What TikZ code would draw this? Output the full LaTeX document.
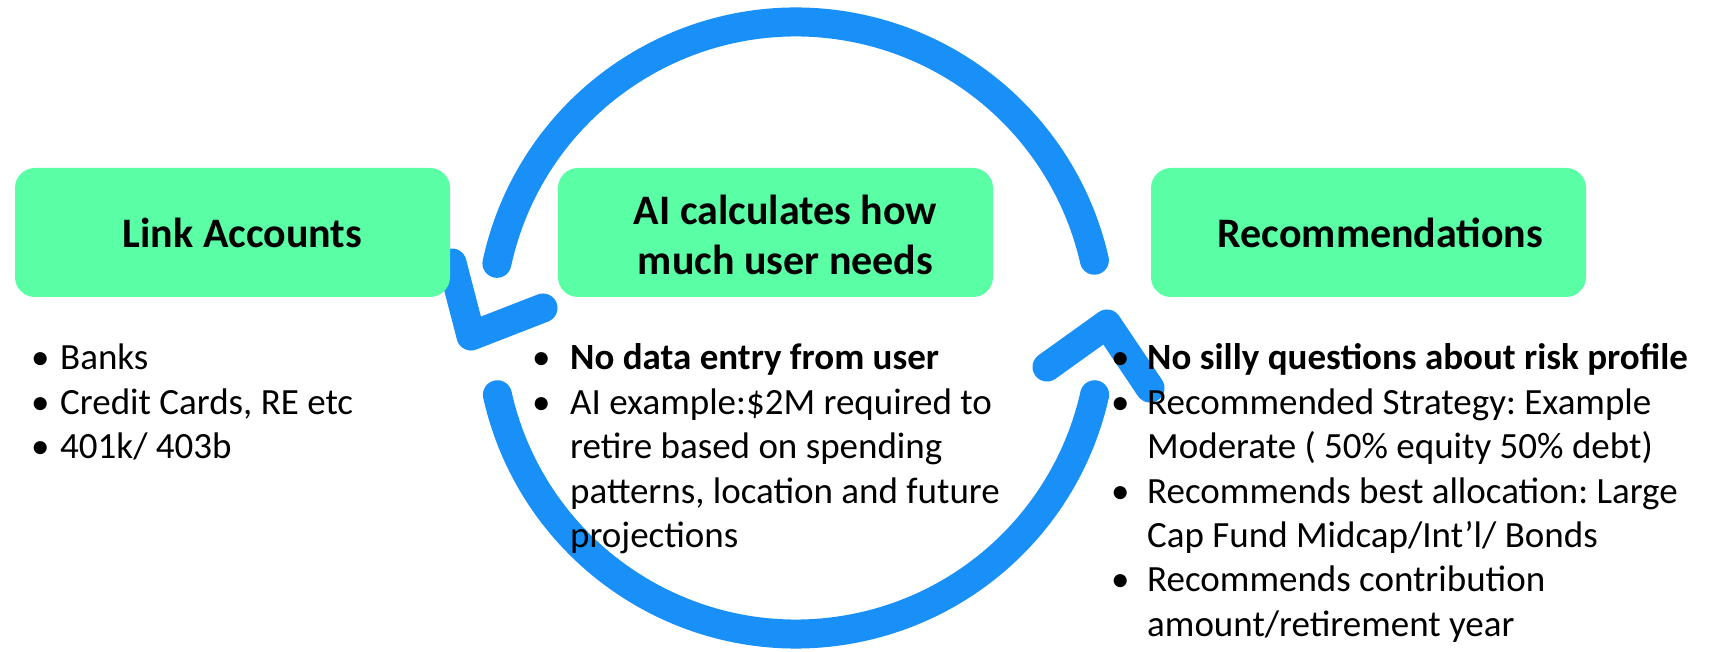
\documentclass[tikz,border=0pt]{standalone}
\usepackage{fontspec}
\setmainfont{Carlito}
\usetikzlibrary{calc}
\definecolor{boxgreen}{RGB}{90,255,165}
\definecolor{arcblue}{RGB}{24,144,248}
\newcommand{\bl}[1]{\makebox[#1][l]{•}}
\frenchspacing
\begin{document}
\begin{tikzpicture}[x=1pt,y=1pt,
  arcline/.style={draw=arcblue,line width=29pt,line cap=round,line join=round},
  greenbox/.style={fill=boxgreen,rounded corners=20pt,minimum width=435pt,minimum height=129pt,inner sep=0pt},
  boxtext/.style={font=\fontsize{42}{50}\selectfont\bfseries,align=center,inner sep=0pt},
  bullets/.style={font=\fontsize{37}{44.4}\selectfont,inner sep=0pt,anchor=base west}
]
\useasboundingbox (0,0) rectangle (1716,651);
\fill[white] (0,0) rectangle (1716,651);

% cycle arrows
\coordinate (c) at (796,323);
\coordinate (uL) at ($(c)+(167.8:306)$);
\coordinate (lL) at ($(c)+(192.6:306)$);
\draw[arcline] (uL) arc[start angle=167.8,end angle=12.8,radius=306];
\draw[arcline] (lL) arc[start angle=192.6,end angle=347.4,radius=306];
\coordinate (hA1) at (452,388);
\coordinate (hA2) at (471,315);
\coordinate (hA3) at (543,343);
\draw[arcline] (hA1) -- (hA2) -- (hA3);
\coordinate (hB1) at (1047,284);
\coordinate (hB2) at (1107,327);
\coordinate (hB3) at (1150,263);
\draw[arcline] (hB1) -- (hB2) -- (hB3);

% boxes
\node[greenbox] (link) at (232.5,418.5) {};
\node[greenbox] (ai) at (775.5,418.5) {};
\node[greenbox] (rec) at (1368.5,418.5) {};
\node[boxtext] (linkt) at ([xshift=10pt]link.center) {Link Accounts};
\node[boxtext] (ait) at ([xshift=10pt,yshift=-2pt]ai.center) {AI calculates how\\much user needs};
\node[boxtext] (rect) at ([xshift=12pt]rec.center) {Recommendations};

% bullet lists
\node[bullets] (l1) at (31,281) {\begin{tabular}[t]{@{}l@{}}
\bl{29pt}Banks\\
\bl{29pt}Credit Cards, RE etc\\
\bl{29pt}401k/ 403b
\end{tabular}};
\node[bullets] (l2) at (532,281) {\begin{tabular}[t]{@{}l@{}}
\bl{38pt}\textbf{No data entry from user}\\
\bl{38pt}AI example:\$2M required to\\
\hspace*{38pt}retire based on spending\\
\hspace*{38pt}patterns, location and future\\
\hspace*{38pt}projections
\end{tabular}};
\node[bullets] (l3) at (1111,281) {\begin{tabular}[t]{@{}l@{}}
\bl{36pt}\textbf{No silly questions about risk profile}\\
\bl{36pt}Recommended Strategy: Example\\
\hspace*{36pt}Moderate ( 50\% equity 50\% debt)\\
\bl{36pt}Recommends best allocation: Large\\
\hspace*{36pt}Cap Fund Midcap/Int’l/ Bonds\\
\bl{36pt}Recommends contribution\\
\hspace*{36pt}amount/retirement year
\end{tabular}};
\end{tikzpicture}
\end{document}
